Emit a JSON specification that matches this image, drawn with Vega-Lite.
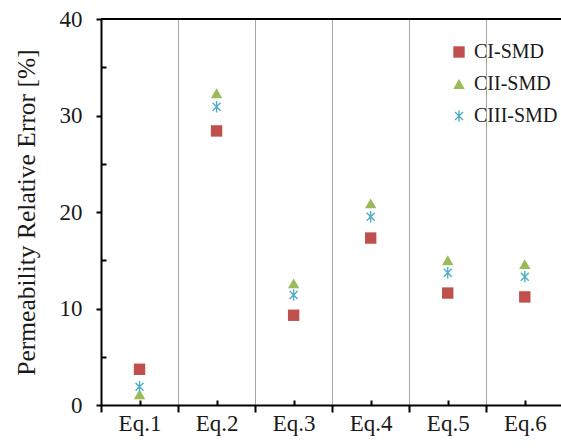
{
  "$schema": "https://vega.github.io/schema/vega-lite/v6.json",
  "width": 460,
  "height": 386,
  "autosize": "none",
  "padding": {"left": 101, "top": 19, "right": 0, "bottom": 43},
  "background": "white",
  "config": {"view": {"stroke": null}, "font": "Liberation Serif"},
  "data": {
    "values": [
      {"eq": 1, "series": "CI-SMD", "error": 3.7},
      {"eq": 1, "series": "CII-SMD", "error": 1.1},
      {"eq": 1, "series": "CIII-SMD", "error": 1.9},
      {"eq": 2, "series": "CI-SMD", "error": 28.4},
      {"eq": 2, "series": "CII-SMD", "error": 32.3},
      {"eq": 2, "series": "CIII-SMD", "error": 30.9},
      {"eq": 3, "series": "CI-SMD", "error": 9.3},
      {"eq": 3, "series": "CII-SMD", "error": 12.6},
      {"eq": 3, "series": "CIII-SMD", "error": 11.4},
      {"eq": 4, "series": "CI-SMD", "error": 17.3},
      {"eq": 4, "series": "CII-SMD", "error": 20.9},
      {"eq": 4, "series": "CIII-SMD", "error": 19.5},
      {"eq": 5, "series": "CI-SMD", "error": 11.6},
      {"eq": 5, "series": "CII-SMD", "error": 15.0},
      {"eq": 5, "series": "CIII-SMD", "error": 13.7},
      {"eq": 6, "series": "CI-SMD", "error": 11.2},
      {"eq": 6, "series": "CII-SMD", "error": 14.6},
      {"eq": 6, "series": "CIII-SMD", "error": 13.3}
    ]
  },
  "layer": [
    {
      "mark": {"type": "point", "filled": true, "size": 130, "opacity": 1},
      "encoding": {
        "x": {
          "field": "eq",
          "type": "quantitative",
          "scale": {"domain": [0.5, 6.47], "nice": false, "zero": false},
          "axis": {
            "title": null,
            "values": [0.5, 1, 1.5, 2, 2.5, 3, 3.5, 4, 4.5, 5, 5.5, 6],
            "labelExpr": "datum.value % 1 === 0 ? 'Eq.' + datum.value : ''",
            "grid": true,
            "gridColor": "#a6a6a6",
            "gridWidth": 1,
            "gridOpacity": {"condition": {"test": "datum.value % 1 === 0", "value": 0}, "value": 1},
            "domainColor": "black",
            "domainWidth": 2,
            "tickColor": "black",
            "tickWidth": 2,
            "tickSize": {"condition": {"test": "datum.value % 1 === 0", "value": -5}, "value": 7},
            "labelPadding": 12.5,
            "labelFontSize": 23,
            "labelFont": "Liberation Serif",
            "labelColor": "#1a1a1a",
            "labelFlush": false,
            "labelOverlap": false
          }
        },
        "y": {
          "field": "error",
          "type": "quantitative",
          "scale": {"domain": [0, 40], "nice": false},
          "axis": {
            "title": "Permeability Relative Error [%]",
            "values": [0, 2.5, 5, 7.5, 10, 12.5, 15, 17.5, 20, 22.5, 25, 27.5, 30, 32.5, 35, 37.5, 40],
            "labelExpr": "datum.value % 10 === 0 ? datum.label : ''",
            "grid": false,
            "domainColor": "black",
            "domainWidth": 2,
            "tickColor": "black",
            "tickWidth": 2,
            "tickSize": {"condition": {"test": "datum.value % 10 === 0", "value": 5}, "value": -5},
            "labelPadding": 14,
            "labelFontSize": 23,
            "labelFont": "Liberation Serif",
            "labelColor": "#1a1a1a",
            "labelOverlap": false,
            "titleFont": "Liberation Serif",
            "titleFontSize": 25.5,
            "titleFontWeight": "normal",
            "titleColor": "#1a1a1a",
            "titlePadding": 20
          }
        },
        "color": {
          "field": "series",
          "type": "nominal",
          "scale": {"domain": ["CI-SMD", "CII-SMD", "CIII-SMD"], "range": ["#C0504D", "#9BBB59", "#4BACC6"]},
          "legend": {
            "title": null,
            "orient": "none",
            "direction": "vertical",
            "legendX": 348,
            "legendY": 23,
            "padding": 0,
            "labelFontSize": 20,
            "labelFont": "Liberation Serif",
            "labelColor": "#1a1a1a",
            "symbolSize": 130,
            "rowPadding": 12,
            "labelOffset": 5,
            "symbolStrokeWidth": 0
          }
        },
        "shape": {
          "field": "series",
          "type": "nominal",
          "scale": {
            "domain": ["CI-SMD", "CII-SMD", "CIII-SMD"],
            "range": [
              "square",
              "triangle-up",
              "M-0.12,-1L0.12,-1L0.12,1L-0.12,1ZM-0.615,-0.785L0.785,0.615L0.615,0.785L-0.785,-0.615ZM-0.785,0.615L0.615,-0.785L0.785,-0.615L-0.615,0.785Z"
            ]
          }
        }
      }
    },
    {
      "data": {"values": [{"error": 40}]},
      "mark": {"type": "rule", "color": "black", "strokeWidth": 2},
      "encoding": {
        "y": {"field": "error", "type": "quantitative"}
      }
    }
  ]
}
